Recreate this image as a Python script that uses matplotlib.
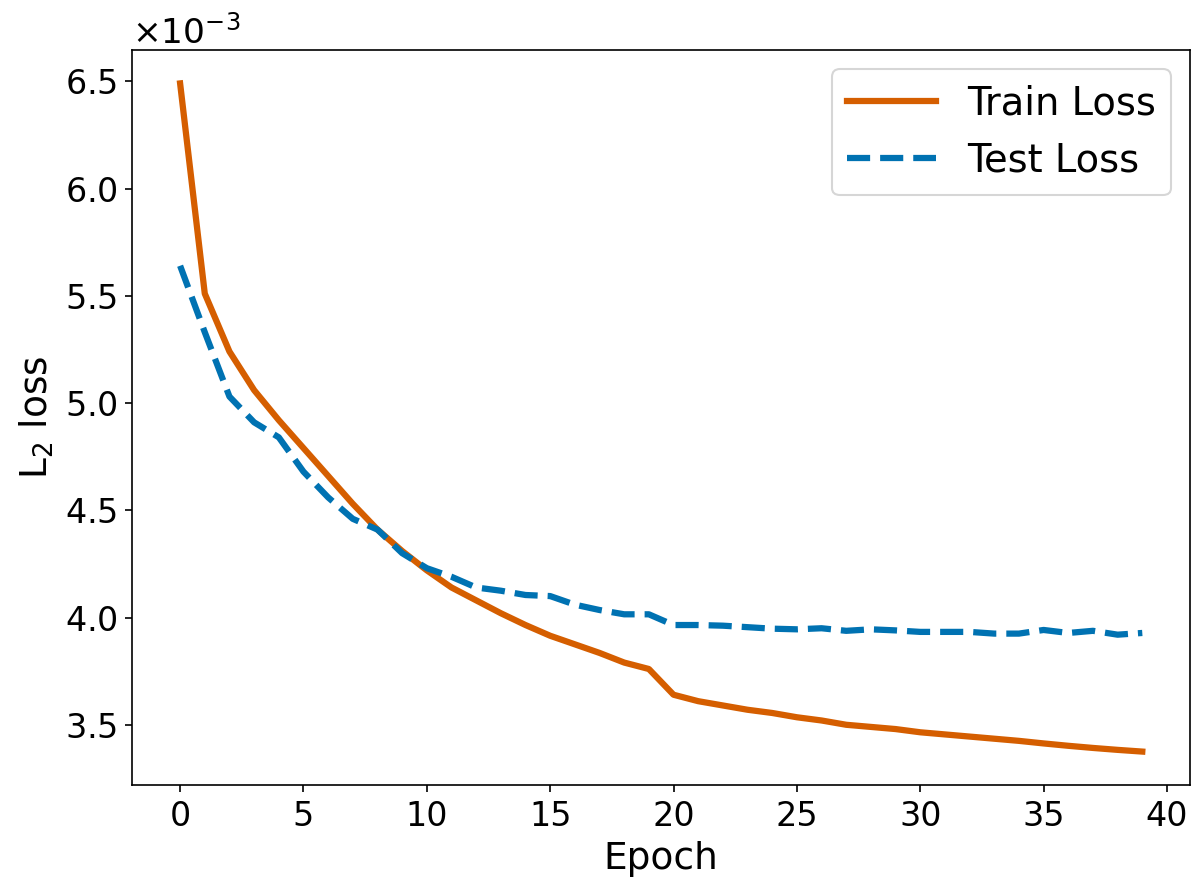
import numpy as np
import matplotlib
matplotlib.use("Agg")
import matplotlib.pyplot as plt

# Loss values (x1e-3)
epochs = list(range(40))
train_loss = [6.49, 5.51, 5.24, 5.06, 4.92, 4.79, 4.66, 4.53, 4.41, 4.31,
              4.22, 4.14, 4.08, 4.02, 3.965, 3.915, 3.875, 3.835, 3.79, 3.76,
              3.64, 3.61, 3.59, 3.57, 3.555, 3.535, 3.52, 3.50, 3.49, 3.48,
              3.465, 3.455, 3.445, 3.435, 3.425, 3.413, 3.402, 3.392, 3.383, 3.375]
test_loss = [5.64, 5.33, 5.03, 4.91, 4.84, 4.68, 4.56, 4.46, 4.41, 4.30,
             4.23, 4.19, 4.14, 4.125, 4.105, 4.10, 4.06, 4.035, 4.015, 4.015,
             3.965, 3.965, 3.962, 3.955, 3.948, 3.945, 3.95, 3.938, 3.945, 3.94,
             3.933, 3.933, 3.933, 3.925, 3.925, 3.942, 3.928, 3.938, 3.92, 3.928]

plt.rcParams["font.family"] = "DejaVu Sans"

fig = plt.figure(figsize=(8, 5.9), dpi=150)
ax = fig.add_axes([0.11, 0.113, 0.882, 0.8305])

ax.plot(epochs, np.array(train_loss) * 1e-3, color="#D55E00", lw=3, label="Train Loss")
ax.plot(epochs, np.array(test_loss) * 1e-3, color="#0072B2", lw=3, ls="--", label="Test Loss")

ax.ticklabel_format(axis="y", style="sci", scilimits=(0, 0), useMathText=True)
ax.set_xlabel("Epoch", fontsize=18)
ax.set_ylabel("L$_2$ loss", fontsize=18)
ax.tick_params(labelsize=16)
ax.yaxis.get_offset_text().set_fontsize(16.5)
ax.legend(fontsize=18.5, loc="upper right", handlelength=2.3)

plt.savefig("out.png", dpi=150)
